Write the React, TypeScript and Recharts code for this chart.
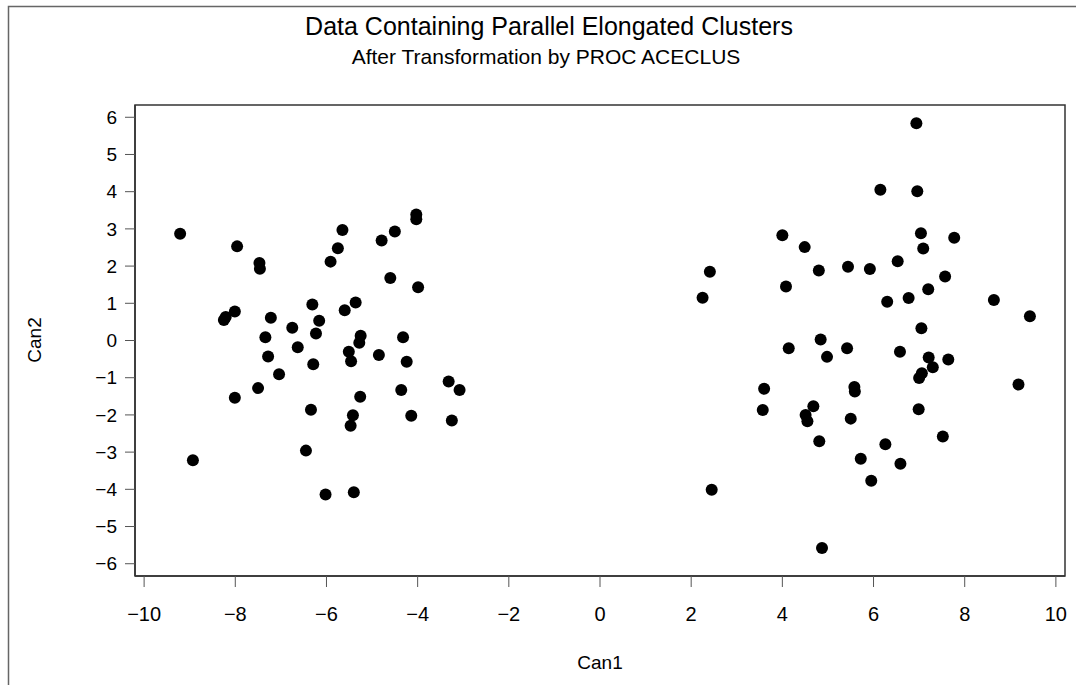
import { ScatterChart, Scatter, XAxis, YAxis, ReferenceArea, Label } from "recharts";

// Cluster on the left (Can1 < 0)
const leftCan1 = [
  -9.21, -8.93, -7.96, -8.25, -8.21, -8.01, -7.47, -7.46, -7.22, -6.75,
  -7.34, -7.28, -7.04, -7.5, -8.01, -6.63, -5.65, -5.75, -5.91, -4.5,
  -4.79, -4.03, -4.03, -4.6, -3.99, -6.31, -5.36, -5.6, -6.16, -6.23,
  -5.25, -4.32, -5.28, -5.51, -5.46, -4.85, -4.24, -6.29, -3.32, -3.08,
  -4.36, -5.26, -6.34, -5.42, -5.47, -4.14, -3.25, -6.45, -6.02, -5.4,
];
const leftCan2 = [
  2.87, -3.22, 2.53, 0.55, 0.63, 0.78, 2.08, 1.93, 0.61, 0.34,
  0.09, -0.43, -0.91, -1.28, -1.54, -0.18, 2.97, 2.48, 2.12, 2.93,
  2.69, 3.39, 3.26, 1.68, 1.43, 0.97, 1.02, 0.81, 0.53, 0.19,
  0.13, 0.09, -0.06, -0.3, -0.56, -0.39, -0.57, -0.64, -1.1, -1.33,
  -1.33, -1.51, -1.86, -2.01, -2.29, -2.02, -2.15, -2.96, -4.14, -4.08,
];

// Cluster on the right (Can1 > 0)
const rightCan1 = [
  4.0, 4.49, 2.41, 2.25, 4.8, 5.44, 5.92, 4.08, 4.84, 6.94,
  6.15, 6.96, 7.04, 7.77, 7.09, 6.53, 7.57, 7.2, 6.77, 6.3,
  8.64, 9.43, 7.05, 6.58, 7.21, 7.64, 7.3, 7.06, 7.0, 9.18,
  6.99, 7.52, 6.26, 5.72, 6.59, 5.95, 4.14, 5.42, 4.98, 3.6,
  5.58, 5.59, 3.57, 4.68, 4.51, 4.55, 5.5, 4.81, 2.45, 4.87,
];
const rightCan2 = [
  2.83, 2.51, 1.85, 1.15, 1.88, 1.98, 1.92, 1.45, 0.03, 5.84,
  4.05, 4.01, 2.88, 2.76, 2.47, 2.13, 1.72, 1.38, 1.14, 1.04,
  1.09, 0.65, 0.33, -0.3, -0.46, -0.51, -0.72, -0.88, -1.01, -1.18,
  -1.85, -2.58, -2.79, -3.18, -3.31, -3.77, -0.21, -0.21, -0.44, -1.3,
  -1.25, -1.37, -1.87, -1.77, -2.0, -2.17, -2.1, -2.71, -4.01, -5.58,
];

const xTicks = [-10, -8, -6, -4, -2, 0, 2, 4, 6, 8, 10];
const yTicks = [-6, -5, -4, -3, -2, -1, 0, 1, 2, 3, 4, 5, 6];

const X_DOMAIN: [number, number] = [-10.2, 10.2];
const Y_DOMAIN: [number, number] = [-6.33, 6.33];

const FONT = "'Liberation Sans', Arial, Helvetica, sans-serif";

const points = [
  ...leftCan1.map((x, i) => ({ can1: x, can2: leftCan2[i] })),
  ...rightCan1.map((x, i) => ({ can1: x, can2: rightCan2[i] })),
];

const fmt = (v: number) => (v < 0 ? `\u2212${Math.abs(v)}` : `${v}`);

const Dot = (props: any) => <circle cx={props.cx} cy={props.cy} r={6} fill="#000" />;

export default function App() {
  return (
    <div style={{ position: "absolute", left: 0, top: 0, width: 1076, height: 685, background: "#fff", fontFamily: FONT }}>
      <ScatterChart width={1076} height={685} margin={{ top: 105, right: 11, bottom: 49, left: 75 }}>
        <ReferenceArea
          x1={X_DOMAIN[0]}
          x2={X_DOMAIN[1]}
          y1={Y_DOMAIN[0]}
          y2={Y_DOMAIN[1]}
          fill="none"
          stroke="#333"
          strokeWidth={1.5}
          ifOverflow="visible"
        />
        <XAxis
          type="number"
          dataKey="can1"
          domain={X_DOMAIN}
          ticks={xTicks}
          allowDataOverflow
          height={60}
          tickSize={11}
          tickMargin={20}
          tickFormatter={fmt}
          axisLine={{ stroke: "#333", strokeWidth: 1.5 }}
          tickLine={{ stroke: "#555" }}
          tick={{ fill: "#000", fontSize: 20, fontFamily: FONT }}
        >
          <Label value="Can1" position="bottom" offset={20} fill="#000" fontSize={19} fontFamily={FONT} />
        </XAxis>
        <YAxis
          type="number"
          dataKey="can2"
          domain={Y_DOMAIN}
          ticks={yTicks}
          allowDataOverflow
          width={60}
          tickSize={10}
          tickMargin={8}
          tickFormatter={fmt}
          axisLine={{ stroke: "#333", strokeWidth: 1.5 }}
          tickLine={{ stroke: "#555" }}
          tick={{ fill: "#000", fontSize: 19, fontFamily: FONT }}
        />
        <Scatter data={points} shape={Dot} isAnimationActive={false} />
      </ScatterChart>
      <svg width={1076} height={685} style={{ position: "absolute", left: 0, top: 0, pointerEvents: "none" }}>
        <path d="M8.5 685 V6.5 H1076" fill="none" stroke="#666" strokeWidth={1.5} />
        <text x={549} y={35} textAnchor="middle" fontSize={25} fontFamily={FONT} fill="#000">
          Data Containing Parallel Elongated Clusters
        </text>
        <text x={546} y={64} textAnchor="middle" fontSize={21} fontFamily={FONT} fill="#000">
          After Transformation by PROC ACECLUS
        </text>
        <text x={41} y={340} textAnchor="middle" transform="rotate(-90 41 340)" fontSize={19} fontFamily={FONT} fill="#000">
          Can2
        </text>
      </svg>
    </div>
  );
}
